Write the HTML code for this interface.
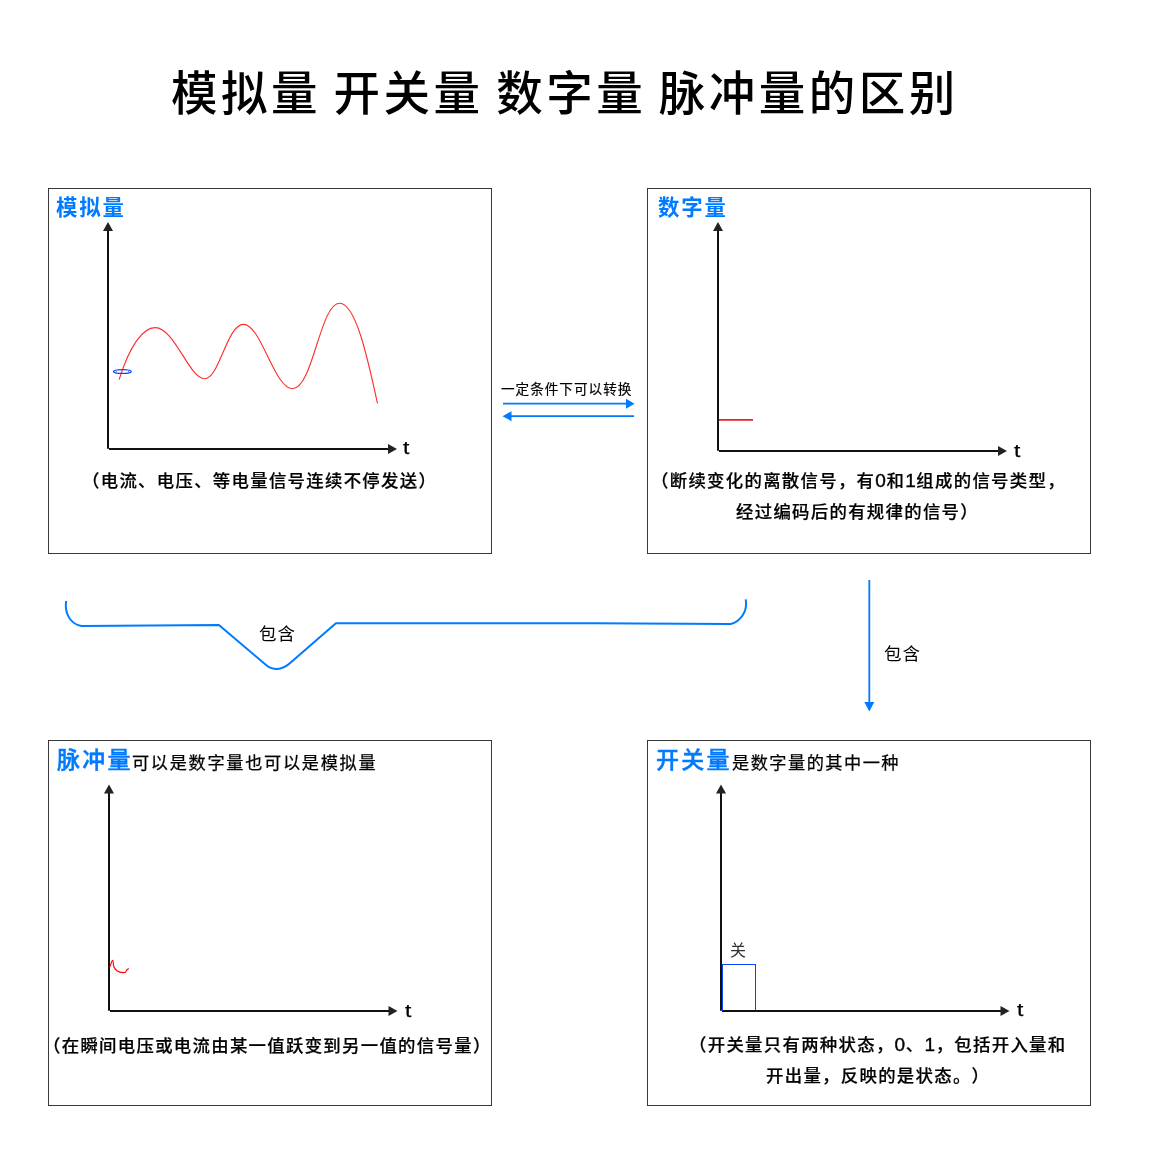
<!DOCTYPE html>
<html lang="zh-CN">
<head>
<meta charset="utf-8">
<title>模拟量 开关量 数字量 脉冲量的区别</title>
<style>
  html, body { margin: 0; padding: 0; background: #fff; }
  body { width: 1153px; height: 1167px; overflow: hidden; }
  #page { position: relative; width: 1153px; height: 1167px; background: #fff; overflow: hidden;
          font-family: "Liberation Sans", "Noto Sans CJK SC", sans-serif; color: #000; }
  #page svg { position: absolute; left: 0; top: 0; }
  h1, h2, p, section { margin: 0; padding: 0; }
  .t { position: absolute; display: block; white-space: nowrap; line-height: 1; margin: 0; padding: 0; text-spacing-trim: space-all; will-change: transform; font-kerning: none; }
  h1.t { font-size: 46.5px; font-weight: 500; letter-spacing: 3.5px; left: 171px; top: 71px; word-spacing: -3.8px; }
  .box { position: absolute; border: 1px solid #383838; box-sizing: border-box; }
  .hd { font-size: 21.4px; font-weight: 700; color: #007aff; letter-spacing: 1.85px; }
  .hd2 { font-size: 23px; font-weight: 500; color: #007aff; letter-spacing: 2.3px; -webkit-text-stroke: 0.45px #007aff; }
  .sub { font-size: 17.2px; font-weight: 400; letter-spacing: 1.6px; color: #000; -webkit-text-stroke: 0.25px #000; }
  .cap { font-size: 17.4px; font-weight: 500; letter-spacing: 1.3px; -webkit-text-stroke: 0.2px #000; }
  .lbl { font-size: 17.5px; font-weight: 400; letter-spacing: 1px; }
  .ax { font-size: 19px; font-weight: 400; color: #000; -webkit-text-stroke: 0.25px #000; transform: scaleX(1.2); transform-origin: 0 0; }
  .d { font-size: 19px; line-height: 0; -webkit-text-stroke: 0.4px #000; letter-spacing: 0.6px; }
  .sm { font-size: 13.6px; font-weight: 400; letter-spacing: 1px; -webkit-text-stroke: 0.2px #000; }
</style>
</head>
<body>
<div id="page">
  <h1 class="t">模拟量 开关量 数字量 脉冲量的区别</h1>

  <svg width="1153" height="1167" viewBox="0 0 1153 1167">
    <!-- axes box 1 -->
    <g fill="none" stroke="#111" stroke-width="2">
      <path d="M108 230 V448.7 M109 449 H389"/>
      <path d="M718 230 V450.7 M719 451 H999"/>
      <path d="M109 792 V1010.7 M110 1011 H390"/>
      <path d="M721 792 V1010.7 M722 1011 H1002"/>
    </g>
    <g fill="#222">
      <path d="M108 222 l5 9 h-10 z"/>
      <path d="M397 449 l-9 -5 v10 z"/>
      <path d="M718 222 l5 9 h-10 z"/>
      <path d="M1007 451 l-9 -5 v10 z"/>
      <path d="M109 784.5 l5 9 h-10 z"/>
      <path d="M397.5 1011 l-9 -5 v10 z"/>
      <path d="M721 784.5 l5 9 h-10 z"/>
      <path d="M1009.5 1011 l-9 -5 v10 z"/>
    </g>
    <!-- analog curve -->
    <path d="M119.1 379.6 C130 345 143 327.6 155.2 327.6 C174.5 327.6 189.5 378.8 204.5 378.8 C219.5 378.8 226.8 324.4 243.6 324.4 C261 324.4 274.5 388.7 292.5 388.7 C313 388.7 320 303.3 339.6 303.3 C356 303.3 368 360 377.5 403.5" fill="none" stroke="#ff2a2a" stroke-width="1.1"/>
    <ellipse cx="122.4" cy="371.5" rx="8.8" ry="1.95" fill="none" stroke="#0a44ff" stroke-width="1.35"/>
    <path d="M115.6 370.6 L116.6 371.5 L115.6 372.4 M129.2 370.6 L128.2 371.5 L129.2 372.4" fill="none" stroke="#0a44ff" stroke-width="0.8"/>
    <!-- digital -->
    <path d="M719 419.8 H753" stroke="#e8202a" stroke-width="1.7" fill="none"/>
    <!-- pulse squiggle -->
    <path d="M109.8 966.8 C110.8 965.5 111.5 960.3 112.5 960.3 C113.4 960.3 113.3 964 113.6 966 C114.2 968.5 115.8 969.8 117 970.7 C119 972 121 972.5 123 972.6 C124.5 972.7 125.8 972.6 126 971.5 C126.2 970.3 126.8 969.8 127.3 969.5 L128.5 968.8" fill="none" stroke="#ff0000" stroke-width="1.15" stroke-linecap="round" stroke-linejoin="round"/>
    <!-- switch rect -->
    <path d="M722.5 1011.4 V964.5 H755.5 V1010" fill="none" stroke="#0a44ff" stroke-width="1" shape-rendering="crispEdges"/>
    <!-- conversion arrows -->
    <g stroke="#007aff" stroke-width="2" fill="none">
      <path d="M503 403.7 H627" stroke-width="1.8"/>
      <path d="M511 416.2 H634" stroke-width="1.8"/>
      <path d="M869.3 580 V703" stroke-width="1.8"/>
      <path d="M66.2 601 C65 608 66.5 614 70 619 C73 623 77 625.3 81.5 626.1 L218.9 625 L267 665.8 C270 668.2 273 669 277 669 C282 669 286.5 666.5 291 662.3 L335.9 623.2 L593 623.2 L730.7 624 C735 623 739.5 620 742.5 615.5 C745.5 611 746.8 606 745.7 599.4" stroke-linejoin="round"/>
    </g>
    <g fill="#007aff">
      <path d="M634.5 403.7 l-8.5 -5 v10 z"/>
      <path d="M502.5 416.2 l9 -5 v10 z"/>
      <path d="M869.3 711.5 l-5 -9.5 h10 z"/>
    </g>
  </svg>

  <section aria-label="模拟量">
    <div class="box" style="left:48px;top:188px;width:444px;height:366px"></div>
    <h2 class="t hd" style="left:56px;top:198px">模拟量</h2>
    <span class="t ax" style="left:403px;top:438px">t</span>
    <p class="t cap" style="left:82px;top:472.5px">（电流、电压、等电量信号连续不停发送）</p>
  </section>

  <section aria-label="数字量">
    <div class="box" style="left:647px;top:188px;width:444px;height:366px"></div>
    <h2 class="t hd" style="left:658px;top:198px">数字量</h2>
    <span class="t ax" style="left:1013.5px;top:441px">t</span>
    <p class="t cap" style="left:651px;top:473px">（断续变化的离散信号，有<span class="d">0</span>和<span class="d">1</span>组成的信号类型，</p>
    <p class="t cap" style="left:736px;top:504px">经过编码后的有规律的信号）</p>
  </section>

  <div class="t sm" style="left:501px;top:383px">一定条件下可以转换</div>
  <div class="t lbl" style="left:258.5px;top:626px">包含</div>
  <div class="t lbl" style="left:883.7px;top:646px">包含</div>

  <section aria-label="脉冲量">
    <div class="box" style="left:48px;top:740px;width:444px;height:366px"></div>
    <h2 class="t hd2" style="left:57px;top:749px">脉冲量</h2>
    <span class="t sub" style="left:132px;top:755px;letter-spacing:1.68px">可以是数字量也可以是模拟量</span>
    <span class="t ax" style="left:404.5px;top:1001px">t</span>
    <p class="t cap" style="left:43px;top:1038px">（在瞬间电压或电流由某一值跃变到另一值的信号量）</p>
  </section>

  <section aria-label="开关量">
    <div class="box" style="left:647px;top:740px;width:444px;height:366px"></div>
    <h2 class="t hd2" style="left:656px;top:749px">开关量</h2>
    <span class="t sub" style="left:732px;top:755px;letter-spacing:1.48px">是数字量的其中一种</span>
    <span class="t" style="left:730px;top:943px;font-size:16px;color:#333">关</span>
    <span class="t ax" style="left:1016.6px;top:1000.4px">t</span>
    <p class="t cap" style="left:689px;top:1037px">（开关量只有两种状态，<span class="d">0</span>、<span class="d">1</span>，包括开入量和</p>
    <p class="t cap" style="left:766px;top:1068px">开出量，反映的是状态。）</p>
  </section>
</div>
</body>
</html>
